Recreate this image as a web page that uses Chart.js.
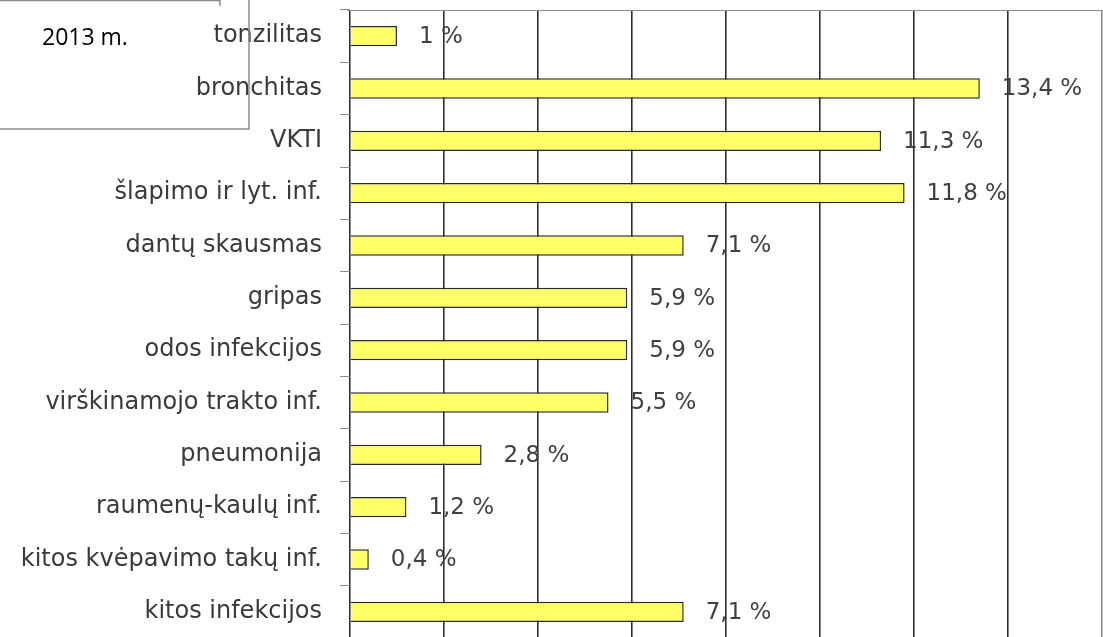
<!DOCTYPE html>
<html>
<head>
<meta charset="utf-8">
<script src="https://cdn.jsdelivr.net/npm/chart.js@4"></script>
<style>
  body { margin: 0; overflow: hidden; background: #fff; }
  #wrap { position: absolute; left: 0; top: 0; width: 1103px; height: 645px; }
</style>
</head>
<body>
<div id="wrap"><canvas id="myChart"></canvas></div>
<script>
const categories = [
  "tonzilitas",
  "bronchitas",
  "VKTI",
  "šlapimo ir lyt. inf.",
  "dantų skausmas",
  "gripas",
  "odos infekcijos",
  "virškinamojo trakto inf.",
  "pneumonija",
  "raumenų-kaulų inf.",
  "kitos kvėpavimo takų inf.",
  "kitos infekcijos"
];
const values = [1, 13.4, 11.3, 11.8, 7.1, 5.9, 5.9, 5.5, 2.8, 1.2, 0.4, 7.1];
const xTicks = [0, 2, 4, 6, 8, 10, 12, 14, 16];
const yearLabel = "2013 m.";

// value labels right of each bar, "13,4 %"
const valueLabels = {
  id: "valueLabels",
  afterDatasetsDraw(chart) {
    const ctx = chart.ctx;
    const meta = chart.getDatasetMeta(0);
    ctx.save();
    ctx.font = "23px 'DejaVu Sans'";
    ctx.fillStyle = "#404040";
    ctx.textAlign = "left";
    ctx.textBaseline = "middle";
    meta.data.forEach(function (bar, i) {
      const txt = String(values[i]).replace(".", ",") + " %";
      ctx.fillText(txt, bar.x + 22, bar.y + 1);
    });
    ctx.restore();
  }
};

// top border of plot and the title box in the corner
const frame = {
  id: "frame",
  afterDraw(chart) {
    const ctx = chart.ctx;
    const a = chart.chartArea;
    ctx.save();
    ctx.strokeStyle = "#8c8c8c";
    ctx.lineWidth = 1;
    ctx.beginPath();
    ctx.moveTo(a.left - 3, a.top + 0.5);
    ctx.lineTo(a.right, a.top + 0.5);
    ctx.stroke();

    ctx.lineWidth = 1.5;
    ctx.beginPath();
    ctx.moveTo(0, 0.5);
    ctx.lineTo(220, 0.5);
    ctx.lineTo(220, 6);
    ctx.stroke();
    ctx.beginPath();
    ctx.moveTo(0, 129);
    ctx.lineTo(249, 129);
    ctx.lineTo(249, 0);
    ctx.stroke();

    ctx.font = "23px 'Open Sans'";
    ctx.fillStyle = "#000";
    ctx.textBaseline = "middle";
    ctx.fillText(yearLabel, 42, 38);
    ctx.restore();
  }
};

new Chart(document.getElementById("myChart"), {
  type: "bar",
  data: {
    labels: categories,
    datasets: [{
      data: values,
      backgroundColor: "#ffff66",
      borderColor: "#2a2a2a",
      borderWidth: 1.5,
      categoryPercentage: 1,
      barPercentage: 0.39
    }]
  },
  options: {
    indexAxis: "y",
    responsive: true,
    maintainAspectRatio: false,
    animation: false,
    layout: { padding: { top: 10, right: 1, bottom: 7, left: 0 } },
    plugins: { legend: { display: false }, tooltip: { enabled: false } },
    scales: {
      x: {
        min: 0,
        max: 16,
        afterBuildTicks(scale) { scale.ticks = xTicks.map(v => ({ value: v })); },
        afterFit(scale) { scale.height = 0; scale.paddingLeft = 0; scale.paddingRight = 0; },
        ticks: { display: false },
        border: { display: false },
        grid: {
          drawTicks: false,
          color: ctx => (ctx.tick && ctx.tick.value === 16 ? "#8c8c8c" : "#2e2e2e"),
          lineWidth: 1.6
        }
      },
      y: {
        afterFit(scale) { scale.width = 350; scale.paddingTop = 0; scale.paddingBottom = 0; },
        border: { display: true, color: "#8c8c8c", width: 1 },
        grid: {
          drawOnChartArea: false,
          drawTicks: true,
          tickLength: 10,
          color: "#8c8c8c"
        },
        ticks: {
          padding: 18,
          color: "#3a3a3a",
          font: { family: "DejaVu Sans", size: 24 }
        }
      }
    }
  },
  plugins: [valueLabels, frame]
});
</script>
</body>
</html>
